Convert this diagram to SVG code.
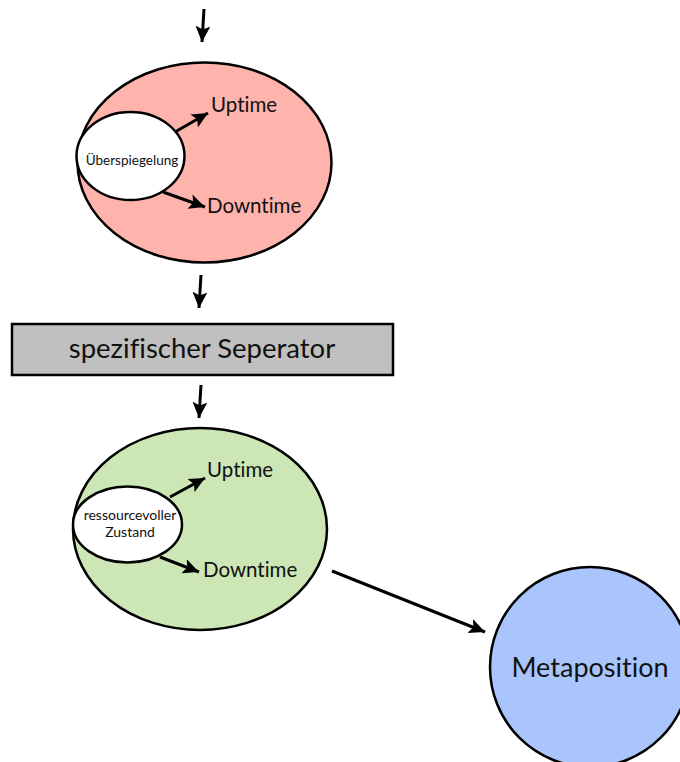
<svg xmlns="http://www.w3.org/2000/svg" width="680" height="762" viewBox="0 0 680 762">
<defs>
<style>
.shape{stroke:#000;stroke-width:2.5}
.txt{font-family:Lato,"Open Sans","Liberation Sans",sans-serif;fill:#111;font-variant-ligatures:none}
.conn{stroke:#000;stroke-width:3;fill:none;marker-end:url(#ah)}
</style>
<marker id="ah" markerUnits="userSpaceOnUse" markerWidth="18" markerHeight="16" refX="16" refY="7.5" orient="auto">
<path d="M0,0 L16,7.5 L0,15 L3.5,7.5 z" fill="#000"/>
</marker>
</defs>
<rect width="680" height="762" fill="#fff"/>
<g id="node-red">
<ellipse class="shape" cx="204.5" cy="162.5" rx="127" ry="100" fill="#FFB3AD"/>
</g>
<g id="node-ueberspiegelung">
<ellipse class="shape" cx="130.5" cy="156" rx="54" ry="44" fill="#fff"/>
<text class="txt" x="132" y="165" font-size="13.5" text-anchor="middle">Überspiegelung</text>
</g>
<g id="label-uptime-1"><text class="txt" x="211" y="112" font-size="20.5">Uptime</text></g>
<g id="label-downtime-1"><text class="txt" x="207" y="213" font-size="20.5">Downtime</text></g>
<g id="node-separator">
<rect class="shape" x="12" y="324" width="381" height="51" fill="#C0C0C0"/>
<text class="txt" x="202" y="358" font-size="27.5" text-anchor="middle">spezifischer Seperator</text>
</g>
<g id="node-green">
<ellipse class="shape" cx="200" cy="529" rx="127" ry="101" fill="#CDE6B6"/>
</g>
<g id="node-zustand">
<ellipse class="shape" cx="127.5" cy="524.5" rx="54.5" ry="38" fill="#fff"/>
<text class="txt" x="130" y="520" font-size="14" text-anchor="middle">ressourcevoller</text>
<text class="txt" x="130" y="537" font-size="14" text-anchor="middle">Zustand</text>
</g>
<g id="label-uptime-2"><text class="txt" x="207" y="477" font-size="20.5">Uptime</text></g>
<g id="label-downtime-2"><text class="txt" x="203" y="577" font-size="20.5">Downtime</text></g>
<g id="node-metaposition">
<circle class="shape" cx="590" cy="667" r="100" fill="#A9C5FB"/>
<text class="txt" x="590" y="677" font-size="27" text-anchor="middle">Metaposition</text>
</g>
<g id="connectors">
<line class="conn" x1="204" y1="9" x2="202" y2="42"/>
<line class="conn" x1="175" y1="132" x2="208" y2="113"/>
<line class="conn" x1="163" y1="192" x2="205" y2="207"/>
<line class="conn" x1="201" y1="275" x2="199" y2="308"/>
<line class="conn" x1="201" y1="385" x2="199" y2="418"/>
<line class="conn" x1="170" y1="497" x2="205" y2="478"/>
<line class="conn" x1="160" y1="557" x2="199" y2="572"/>
<line class="conn" x1="332" y1="571" x2="485" y2="632"/>
</g>
</svg>
